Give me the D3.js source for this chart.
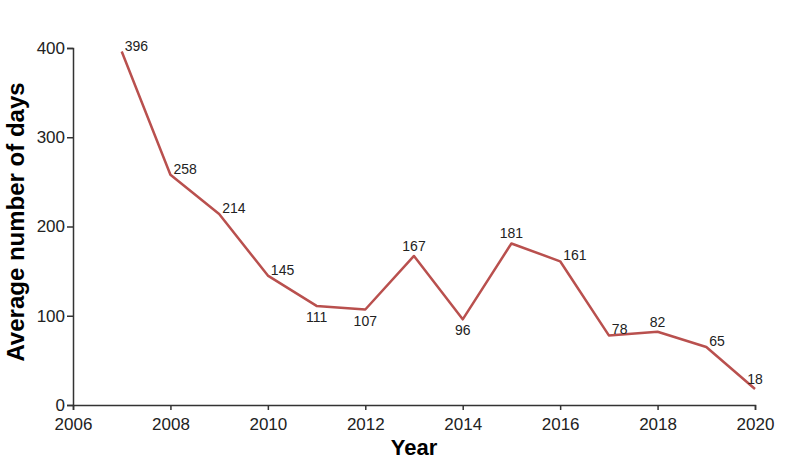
<!DOCTYPE html>
<html>
<head>
<meta charset="utf-8">
<script src="https://cdn.jsdelivr.net/npm/d3@7"></script>
<style>
  body { margin: 0; background: #fff; }
  .axis text { font-family: "Liberation Sans", Arial, sans-serif; font-size: 17px; fill: #222; }
  .axis path, .axis line { stroke: #333; stroke-width: 1.5; }
</style>
</head>
<body>
<div class="canvas"></div>
<script>
// data
const years = [2007, 2008, 2009, 2010, 2011, 2012, 2013, 2014, 2015, 2016, 2017, 2018, 2019, 2020];
const avgDays = [396, 258, 214, 145, 111, 107, 167, 96, 181, 161, 78, 82, 65, 18];
const xTicks = [2006, 2008, 2010, 2012, 2014, 2016, 2018, 2020];
const yTicks = [0, 100, 200, 300, 400];

// where each value label sits relative to its point
const labelSpot = ['ne', 'ne', 'ne', 'ne', 'below', 'below', 'above', 'below', 'above', 'ne', 'ne', 'above', 'ne', 'above'];

const dims = {width: 789, height: 470};
const margin = {left: 73, right: 34, top: 48, bottom: 65};

const svg = d3.select('.canvas')
  .append('svg')
    .attr('width', dims.width)
    .attr('height', dims.height);

const x = d3.scaleLinear()
  .domain([2006, 2020])
  .range([margin.left, dims.width - margin.right]);

const y = d3.scaleLinear()
  .domain([0, 400])
  .range([dims.height - margin.bottom, margin.top]);

svg.append('g')
    .attr('class', 'axis')
    .attr('transform', `translate(0, ${y(0)})`)
    .call(d3.axisBottom(x).tickValues(xTicks).tickFormat(d3.format('d')).tickSize(5).tickPadding(8));

svg.append('g')
    .attr('class', 'axis')
    .attr('transform', `translate(${x(2006)}, 0)`)
    .call(d3.axisLeft(y).tickValues(yTicks).tickSize(6).tickPadding(2));

const line = d3.line()
  .x((d, i) => x(years[i]))
  .y(d => y(d));

svg.append('path')
    .datum(avgDays)
    .attr('fill', 'none')
    .attr('stroke', '#b9504e')
    .attr('stroke-width', 2.5)
    .attr('stroke-linejoin', 'round')
    .attr('d', line);

const offsets = {
  ne: {dx: 3, dy: -1, anchor: 'start'},
  above: {dx: 0, dy: -5, anchor: 'middle'},
  below: {dx: 0, dy: 16, anchor: 'middle'}
};

svg.selectAll('.val')
  .data(avgDays)
  .enter()
  .append('text')
    .attr('class', 'val')
    .attr('x', (d, i) => x(years[i]) + offsets[labelSpot[i]].dx)
    .attr('y', d => y(d))
    .attr('dy', (d, i) => offsets[labelSpot[i]].dy)
    .attr('text-anchor', (d, i) => offsets[labelSpot[i]].anchor)
    .style('font-family', '"Liberation Sans", Arial, sans-serif')
    .style('font-size', '14px')
    .style('fill', '#222')
    .text(d => d);

svg.append('text')
    .attr('x', (x(2006) + x(2020)) / 2)
    .attr('y', 455)
    .attr('text-anchor', 'middle')
    .style('font-family', '"Liberation Sans", Arial, sans-serif')
    .style('font-size', '22px')
    .style('font-weight', 'bold')
    .text('Year');

svg.append('text')
    .attr('transform', 'translate(24, 222) rotate(-90)')
    .attr('text-anchor', 'middle')
    .style('font-family', '"Liberation Sans", Arial, sans-serif')
    .style('font-size', '24px')
    .style('font-weight', 'bold')
    .text('Average number of days');
</script>
</body>
</html>
